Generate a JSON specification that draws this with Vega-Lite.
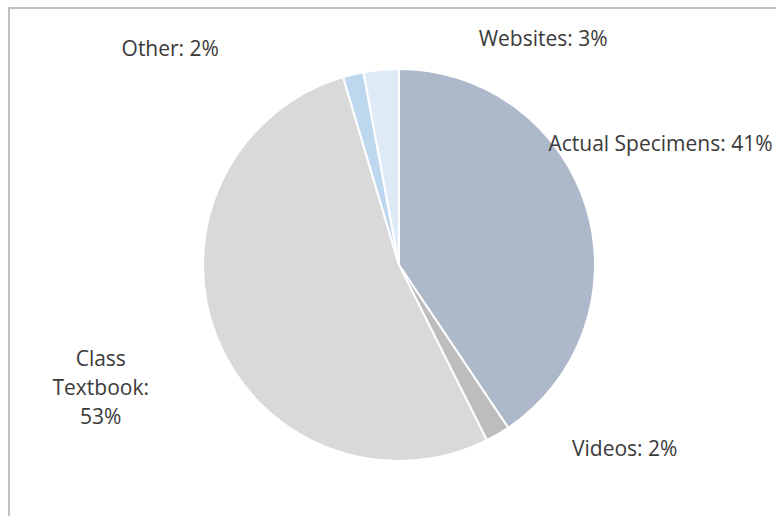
{
  "$schema": "https://vega.github.io/schema/vega-lite/v6.json",
  "autosize": "none",
  "width": 780,
  "height": 514,
  "padding": {"left": 9, "top": 8, "right": 0, "bottom": 0},
  "background": "white",
  "view": {"stroke": "#C0C0C0", "strokeWidth": 2},
  "config": {
    "view": {"stroke": "#C0C0C0", "strokeWidth": 2},
    "text": {"font": "Open Sans", "fontSize": 21, "fill": "#3a3a3a"}
  },
  "data": {
    "values": [
      {"category": "Actual Specimens", "rank": 1, "value": 40.6, "label": "Actual Specimens: 41%"},
      {"category": "Videos", "rank": 2, "value": 2.0, "label": "Videos: 2%"},
      {"category": "Class Textbook", "rank": 3, "value": 52.8, "label": ["Class", "Textbook:", "53%"]},
      {"category": "Other", "rank": 4, "value": 1.7, "label": "Other: 2%"},
      {"category": "Websites", "rank": 5, "value": 2.9, "label": "Websites: 3%"}
    ]
  },
  "encoding": {
    "theta": {"field": "value", "type": "quantitative", "stack": true},
    "order": {"field": "rank", "type": "quantitative", "sort": "ascending"},
    "color": {
      "field": "category",
      "type": "nominal",
      "scale": {
        "domain": ["Actual Specimens", "Videos", "Class Textbook", "Other", "Websites"],
        "range": ["#ADB9CA", "#BDBDBD", "#D9D9D9", "#BDD7EE", "#DEEBF7"]
      },
      "legend": null
    }
  },
  "layer": [
    {"mark": {"type": "arc", "radius": 196, "stroke": "white", "strokeWidth": 2}},
    {
      "mark": {"type": "text", "radius": 196, "dx": 74, "dy": -63, "align": "center", "baseline": "middle"},
      "encoding": {"text": {"condition": {"test": "datum.category === 'Actual Specimens'", "field": "label", "type": "nominal"}, "value": ""}, "color": {"value": "#3a3a3a"}}
    },
    {
      "mark": {"type": "text", "radius": 196, "dx": 127, "dy": 16, "align": "center", "baseline": "middle"},
      "encoding": {"text": {"condition": {"test": "datum.category === 'Videos'", "field": "label", "type": "nominal"}, "value": ""}, "color": {"value": "#3a3a3a"}}
    },
    {
      "mark": {"type": "text", "radius": 196, "dx": -116, "dy": 23, "align": "center", "baseline": "middle", "lineHeight": 29},
      "encoding": {"text": {"condition": {"test": "datum.category === 'Class Textbook'", "field": "label", "type": "nominal"}, "value": ""}, "color": {"value": "#3a3a3a"}}
    },
    {
      "mark": {"type": "text", "radius": 196, "dx": -183, "dy": -24, "align": "center", "baseline": "middle"},
      "encoding": {"text": {"condition": {"test": "datum.category === 'Other'", "field": "label", "type": "nominal"}, "value": ""}, "color": {"value": "#3a3a3a"}}
    },
    {
      "mark": {"type": "text", "radius": 196, "dx": 162, "dy": -30, "align": "center", "baseline": "middle"},
      "encoding": {"text": {"condition": {"test": "datum.category === 'Websites'", "field": "label", "type": "nominal"}, "value": ""}, "color": {"value": "#3a3a3a"}}
    }
  ]
}
